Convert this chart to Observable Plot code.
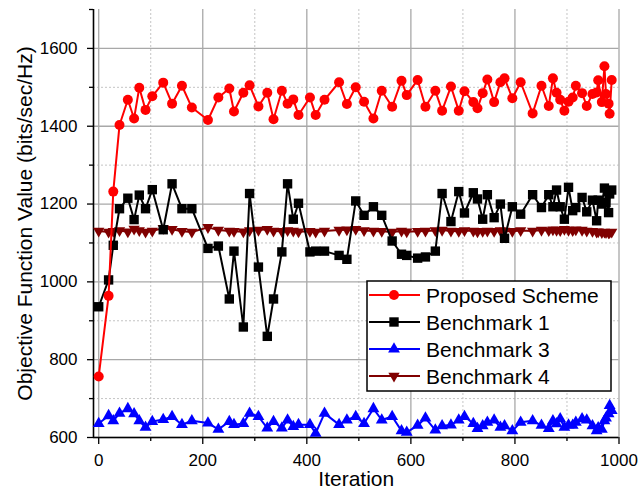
<!DOCTYPE html>
<html>
<head>
<meta charset="utf-8">
<script src="https://cdn.jsdelivr.net/npm/d3@7"></script>
<script src="https://cdn.jsdelivr.net/npm/@observablehq/plot@0.6"></script>
<style>
  html, body { margin: 0; padding: 0; background: white; }
  #wrap { position: relative; width: 638px; height: 493px; font-family: "Liberation Sans", Arial, sans-serif; }
  #legend { position: absolute; left: 0; top: 0; }
</style>
</head>
<body>
<div id="wrap"></div>
<script>
const iterations = [0, 19, 28, 40, 56, 68, 78, 90, 103, 124,
  141, 160, 179, 210, 230, 251, 260, 278, 290, 307,
  324, 336, 352, 363, 374, 384, 406, 417, 434, 462,
  477, 494, 510, 528, 544, 564, 582, 592, 613, 628,
  647, 660, 677, 692, 703, 720, 728, 738, 747, 760,
  772, 780, 795, 811, 834, 851, 865, 873, 880, 887,
  895, 903, 911, 917, 929, 938, 949, 957, 960, 967,
  972, 975, 980, 982, 986];

const proposed = [757, 964, 1232, 1403, 1468, 1420, 1499, 1442, 1477, 1512,
  1458, 1504, 1448, 1416, 1474, 1497, 1438, 1486, 1505, 1451,
  1486, 1418, 1491, 1458, 1469, 1429, 1474, 1429, 1468, 1513,
  1457, 1500, 1463, 1420, 1491, 1450, 1517, 1480, 1519, 1450,
  1491, 1440, 1502, 1440, 1490, 1462, 1446, 1485, 1520, 1462,
  1513, 1523, 1472, 1513, 1433, 1504, 1452, 1523, 1486, 1468,
  1440, 1463, 1474, 1504, 1485, 1452, 1483, 1487, 1518, 1462,
  1554, 1483, 1458, 1432, 1519];

const bench1 = [936, 1005, 1094, 1188, 1215, 1160, 1223, 1188, 1237, 1134,
  1252, 1188, 1188, 1086, 1092, 956, 1079, 884, 1227, 1038,
  860, 956, 1077, 1252, 1161, 1202, 1077, 1079, 1079, 1068,
  1058, 1208, 1171, 1193, 1171, 1105, 1071, 1068, 1061, 1064,
  1079, 1227, 1155, 1232, 1177, 1229, 1213, 1161, 1224, 1165,
  1200, 1112, 1193, 1174, 1224, 1191, 1224, 1193, 1236, 1193,
  1161, 1243, 1183, 1191, 1217, 1180, 1210, 1157, 1210, 1200,
  1241, 1204, 1178, 1226, 1236];

const bench3 = [636, 656, 643, 662, 674, 661, 643, 626, 641, 646,
  654, 633, 643, 637, 621, 641, 633, 636, 662, 654,
  624, 641, 624, 645, 628, 633, 633, 611, 662, 633,
  645, 654, 636, 674, 645, 654, 617, 613, 631, 650,
  619, 630, 632, 645, 654, 636, 623, 630, 639, 645,
  626, 630, 617, 639, 643, 631, 623, 643, 635, 648,
  626, 632, 631, 639, 648, 645, 630, 617, 625, 621,
  643, 650, 661, 682, 669];

const bench4 = [1131, 1128, 1130, 1132, 1129, 1136, 1132, 1128, 1131, 1138,
  1135, 1130, 1128, 1140, 1133, 1131, 1130, 1129, 1132, 1133,
  1135, 1131, 1130, 1132, 1131, 1129, 1130, 1128, 1131, 1133,
  1134, 1135, 1132, 1131, 1130, 1128, 1131, 1129, 1130, 1131,
  1132, 1133, 1131, 1130, 1132, 1131, 1129, 1130, 1131, 1130,
  1132, 1131, 1130, 1132, 1131, 1133, 1132, 1134, 1133, 1132,
  1135, 1133, 1132, 1134, 1133, 1131, 1130, 1128, 1129, 1127,
  1128, 1127, 1126, 1127, 1128];

const seriesNames = ["Proposed Scheme", "Benchmark 1", "Benchmark 3", "Benchmark 4"];
const seriesColors = ["#ff0000", "#000000", "#0000ff", "#800000"];

const xMajor = [0, 200, 400, 600, 800, 1000];
const xMinor = [100, 300, 500, 700, 900];
const yMajor = [600, 800, 1000, 1200, 1400, 1600];
const yMinor = [700, 900, 1100, 1300, 1500, 1700];

const toRows = vals => iterations.map((it, i) => ({x: it, y: vals[i]}));
const dRed = toRows(proposed);
const dB1 = toRows(bench1);
const dB3 = toRows(bench3);
const dB4 = toRows(bench4);
const fmt = d => String(d);

const chart = Plot.plot({
  width: 638,
  height: 493,
  marginLeft: 93,
  marginRight: 19.5,
  marginTop: 9,
  marginBottom: 56,
  style: {fontFamily: '"Liberation Sans", Arial, sans-serif', fontSize: "17px", background: "white", color: "black"},
  x: {domain: [-10, 1000]},
  y: {domain: [600, 1700]},
  marks: [
    Plot.ruleX(xMinor, {stroke: "#c4c4c4", strokeWidth: 1, strokeDasharray: "2,2"}),
    Plot.ruleY(yMinor.filter(v => v < 1700), {stroke: "#c4c4c4", strokeWidth: 1, strokeDasharray: "2,2"}),
    Plot.ruleX(xMajor, {stroke: "#a8a8a8", strokeWidth: 1.3}),
    Plot.ruleY(yMajor, {stroke: "#a8a8a8", strokeWidth: 1.3}),
    Plot.axisX({ticks: xMajor, tickSize: 7, tickPadding: 9, fontSize: 17, tickFormat: fmt, label: null, stroke: "black", strokeWidth: 1.3}),
    Plot.axisX({ticks: xMinor, tickSize: 4, tickFormat: () => "", label: null, stroke: "black", strokeWidth: 1.3}),
    Plot.axisY({ticks: yMajor, tickSize: 6, tickPadding: 10, fontSize: 17, tickFormat: fmt, label: null, stroke: "black", strokeWidth: 1.3}),
    Plot.axisY({ticks: yMinor, tickSize: 4, tickFormat: () => "", label: null, stroke: "black", strokeWidth: 1.3}),
    Plot.ruleY([600], {stroke: "black", strokeWidth: 1.6}),
    Plot.ruleX([-10], {stroke: "black", strokeWidth: 1.6}),
    // Benchmark 4
    Plot.line(dB4, {x: "x", y: "y", stroke: seriesColors[3], strokeWidth: 2}),
    Plot.dot(dB4, {x: "x", y: "y", symbol: "triangle", r: 4.2, rotate: 180, fill: seriesColors[3], stroke: "none"}),
    // Benchmark 3
    Plot.line(dB3, {x: "x", y: "y", stroke: seriesColors[2], strokeWidth: 2}),
    Plot.dot(dB3, {x: "x", y: "y", symbol: "triangle", r: 4.4, fill: seriesColors[2], stroke: "none"}),
    // Benchmark 1
    Plot.line(dB1, {x: "x", y: "y", stroke: seriesColors[1], strokeWidth: 2}),
    Plot.dot(dB1, {x: "x", y: "y", symbol: "square", r: 5.3, fill: seriesColors[1], stroke: "none"}),
    // Proposed
    Plot.line(dRed, {x: "x", y: "y", stroke: seriesColors[0], strokeWidth: 2}),
    Plot.dot(dRed, {x: "x", y: "y", symbol: "circle", r: 5, fill: seriesColors[0], stroke: "none"}),
    // axis titles
    Plot.text(["Iteration"], {frameAnchor: "bottom", dy: 48, fontSize: 21, textAnchor: "middle", fill: "black"}),
    Plot.text(["Objective Function Value (bits/sec/Hz)"], {frameAnchor: "left", dx: -68, rotate: -90, fontSize: 21, textAnchor: "middle", fill: "black"})
  ]
});

const wrap = document.getElementById("wrap");
wrap.appendChild(chart);

// Legend overlay
const lg = d3.select(wrap).append("svg")
  .attr("id", "legend")
  .attr("width", 638).attr("height", 493)
  .style("pointer-events", "none");
const box = {x: 367, y: 281, w: 244, h: 110};
lg.append("rect").attr("x", box.x).attr("y", box.y).attr("width", box.w).attr("height", box.h)
  .attr("fill", "white").attr("stroke", "black").attr("stroke-width", 1.5);
const symbols = [d3.symbolCircle, d3.symbolSquare, d3.symbolTriangle, d3.symbolTriangle];
const sizes = [Math.PI * 25, Math.PI * 5.3 * 5.3, Math.PI * 4.4 * 4.4, Math.PI * 4.2 * 4.2];
const rot = [0, 0, 0, 180];
seriesNames.forEach((name, i) => {
  const cy = box.y + 14 + i * 27;
  lg.append("line").attr("x1", box.x + 2).attr("x2", box.x + 53).attr("y1", cy).attr("y2", cy)
    .attr("stroke", seriesColors[i]).attr("stroke-width", 2);
  lg.append("path").attr("d", d3.symbol(symbols[i], sizes[i])())
    .attr("transform", `translate(${box.x + 27},${cy}) rotate(${rot[i]})`)
    .attr("fill", seriesColors[i]);
  lg.append("text").attr("x", box.x + 59).attr("y", cy).attr("dy", "0.36em")
    .attr("font-size", 21).attr("font-family", '"Liberation Sans", Arial, sans-serif')
    .attr("fill", "black").text(name);
});
</script>
</body>
</html>
